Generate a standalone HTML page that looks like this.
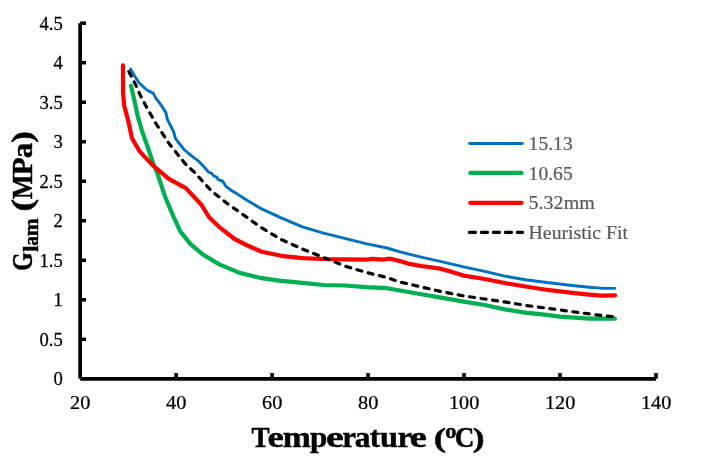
<!DOCTYPE html>
<html>
<head>
<meta charset="utf-8">
<title>Chart</title>
<style>
html,body{margin:0;padding:0;background:#fff;}
body{width:710px;height:472px;overflow:hidden;}
svg{display:block;will-change:transform;}
text{font-family:"Liberation Serif",serif;}
</style>
</head>
<body>
<svg width="710" height="472" viewBox="0 0 710 472">
<rect x="0" y="0" width="710" height="472" fill="#ffffff"/>
<!-- series -->
<g fill="none" stroke-linejoin="round" stroke-linecap="round">
<polyline id="blue" stroke="#0070C0" stroke-width="2.9" points="130.5,68.9 133.5,74.3 139.2,83 146.9,90 153.2,93.1 155.8,98.2 160.8,104.6 165.9,112.6 167.2,119 173.6,131.7 175.5,138.7 184,149.5 191.6,155.9 199.2,161.7 205.6,168.6 208.8,172.3 211.3,172.9 213.9,176.1 216.4,176.9 218.3,179.6 222.8,181.3 225.9,186.3 231,190.2 237.4,194.1 245,199.0 260,208.1 281.2,217.9 302.4,226.8 323.6,233.1 344.7,238.4 365.9,243.7 387.1,248 400,251.9 421.2,257.2 442.4,261.9 463.6,266.8 484.7,271.4 505.9,276.3 527.1,280.0 544.8,282.3 559.7,284.0 574.5,285.8 589.3,287.2 604.2,288.4 614.6,288.4"/>
<polyline id="green" stroke="#00B050" stroke-width="4.2" points="131.0,85.6 135.4,105 137.3,114.7 141.8,130.4 148.1,148.2 153.2,163.5 156.9,172 165.4,197.5 173.6,216.9 180.3,231.4 190.5,244.1 202.4,254.2 219.3,264.4 239.7,272.9 261.7,278.2 281.2,280.8 302.4,282.9 323.6,285 344.7,285.5 365.9,287.2 387.1,288.2 400,290.5 421.2,294.3 442.4,297.9 463.6,301.6 484.7,305.0 505.9,309.6 527.1,312.8 544.8,314.7 559.7,316.6 574.5,317.6 589.3,318.7 614.9,318.7"/>
<polyline id="red" stroke="#FF0000" stroke-width="4.2" points="123.0,65.4 123.1,93.1 124.2,105.8 128.4,121.5 131.9,138.0 139.2,150.8 152.5,165.2 168.8,178.8 185.8,188.1 201,204.2 209.5,217.8 219.3,227.1 234.6,239 248.1,245.8 261.7,251.7 281.2,255.8 302.4,258.2 323.6,259.0 344.7,259.3 365.9,259.7 372.3,258.8 382.9,259.7 390.3,258.7 399.8,261.1 409.4,263.9 421.2,266.0 440.3,268.7 452,271.9 463.6,275.6 484.7,279.0 505.9,283.3 527.1,286.8 544.8,289.5 559.7,291.3 574.5,293.2 589.3,294.7 601.2,295.7 615.1,295.3"/>
<polyline id="black" stroke="#000000" stroke-width="3.2" stroke-dasharray="5.0 6.593" stroke-dashoffset="0" points="128.8,71.6 135.4,84.2 140.5,95.7 146.2,106.5 157.0,125.3 169.7,144.4 185.0,163.5 194.2,172 211.2,190.7 228.1,204.2 241.7,213.6 260,226.8 281.2,239.5 302.4,249 323.6,257.5 344.7,266 365.9,272.3 387.1,277.6 400,282 421.2,286.9 442.4,291.8 463.6,295.9 484.7,299.0 505.9,302.2 527.1,305.6 544.8,307.9 559.7,309.9 574.5,312.0 589.3,313.9 604.2,315.9 612.3,316.6"/>
</g>
<!-- axes -->
<g fill="none" stroke="#000" stroke-linecap="butt">
<line x1="80.15" y1="23.2" x2="80.15" y2="378.8" stroke-width="3.7"/>
<line x1="80.15" y1="378.8" x2="656.0" y2="378.8" stroke-width="3.8"/>
</g>
<g id="yticks" stroke="#000" stroke-width="3.5" fill="none">
<line x1="80.15" y1="339.29" x2="86" y2="339.29"/>
<line x1="80.15" y1="299.78" x2="86" y2="299.78"/>
<line x1="80.15" y1="260.27" x2="86" y2="260.27"/>
<line x1="80.15" y1="220.76" x2="86" y2="220.76"/>
<line x1="80.15" y1="181.24" x2="86" y2="181.24"/>
<line x1="80.15" y1="141.73" x2="86" y2="141.73"/>
<line x1="80.15" y1="102.22" x2="86" y2="102.22"/>
<line x1="80.15" y1="62.71" x2="86" y2="62.71"/>
<line x1="80.15" y1="23.20" x2="86" y2="23.20"/>
</g>
<g id="xticks" stroke="#000" stroke-width="3.6" fill="none">
<line x1="176.12" y1="378.8" x2="176.12" y2="373.1"/>
<line x1="272.10" y1="378.8" x2="272.10" y2="373.1"/>
<line x1="368.08" y1="378.8" x2="368.08" y2="373.1"/>
<line x1="464.05" y1="378.8" x2="464.05" y2="373.1"/>
<line x1="560.03" y1="378.8" x2="560.03" y2="373.1"/>
<line x1="656.00" y1="378.8" x2="656.00" y2="373.1"/>
</g>
<!-- y tick labels -->
<g font-size="19.6" fill="#000" stroke="#000" stroke-width="0.25" text-anchor="end">
<text transform="translate(62.7,385.40) scale(0.95,1)">0</text>
<text transform="translate(62.7,345.89) scale(0.95,1)">0.5</text>
<text transform="translate(62.7,306.38) scale(0.95,1)">1</text>
<text transform="translate(62.7,266.87) scale(0.95,1)">1.5</text>
<text transform="translate(62.7,227.36) scale(0.95,1)">2</text>
<text transform="translate(62.7,187.84) scale(0.95,1)">2.5</text>
<text transform="translate(62.7,148.33) scale(0.95,1)">3</text>
<text transform="translate(62.7,108.82) scale(0.95,1)">3.5</text>
<text transform="translate(62.7,69.31) scale(0.95,1)">4</text>
<text transform="translate(62.7,29.80) scale(0.95,1)">4.5</text>
</g>
<!-- x tick labels -->
<g font-size="19.6" fill="#000" stroke="#000" stroke-width="0.25" text-anchor="middle">
<text transform="translate(80.25,409.2) scale(1.035,1)">20</text>
<text transform="translate(176.22,409.2) scale(1.035,1)">40</text>
<text transform="translate(272.20,409.2) scale(1.035,1)">60</text>
<text transform="translate(368.18,409.2) scale(1.035,1)">80</text>
<text transform="translate(464.15,409.2) scale(1.035,1)">100</text>
<text transform="translate(560.13,409.2) scale(1.035,1)">120</text>
<text transform="translate(656.10,409.2) scale(1.035,1)">140</text>
</g>
<!-- legend -->
<g fill="none" stroke-linecap="round">
<line x1="469.6" y1="143.5" x2="522.3" y2="143.5" stroke="#0070C0" stroke-width="2.9"/>
<line x1="470.3" y1="172.9" x2="521.6" y2="172.9" stroke="#00B050" stroke-width="4.2"/>
<line x1="470.3" y1="202.8" x2="521.6" y2="202.8" stroke="#FF0000" stroke-width="4.2"/>
<line x1="469.3" y1="232.3" x2="522.6" y2="232.3" stroke="#000" stroke-width="3.2" stroke-dasharray="6.2 5.8"/>
</g>
<g font-size="19.6" fill="#595959" stroke="#595959" stroke-width="0.2">
<text x="528.6" y="150.0">15.13</text>
<text x="528.6" y="179.5">10.65</text>
<text x="528.6" y="209.0" textLength="66.2" lengthAdjust="spacingAndGlyphs">5.32mm</text>
<text x="528.6" y="238.6" textLength="99.4" lengthAdjust="spacingAndGlyphs">Heuristic Fit</text>
</g>
<!-- axis titles -->
<g font-weight="bold" fill="#000" stroke="#000" stroke-width="0.45" stroke-linejoin="round">
<text transform="translate(251.59,446.9) scale(0.903,1)" font-size="30.0">T</text>
<text transform="translate(267.62,446.9) scale(1.221,1)" font-size="30.0">e</text>
<text transform="translate(282.86,446.9) scale(1.127,1)" font-size="30.0">m</text>
<text transform="translate(309.93,446.9) scale(1.040,1)" font-size="30.0">p</text>
<text transform="translate(325.90,446.9) scale(1.333,1)" font-size="30.0">e</text>
<text transform="translate(342.23,446.9) scale(1.030,1)" font-size="30.0">r</text>
<text transform="translate(354.86,446.9) scale(1.048,1)" font-size="30.0">a</text>
<text transform="translate(369.63,446.9) scale(1.037,1)" font-size="30.0">t</text>
<text transform="translate(379.91,446.9) scale(1.081,1)" font-size="30.0">u</text>
<text transform="translate(397.38,446.9) scale(1.089,1)" font-size="30.0">r</text>
<text transform="translate(409.75,446.9) scale(1.281,1)" font-size="30.0">e</text>
<text transform="translate(433.72,446.7) scale(1.331,1)" font-size="28.0">(</text>
<text transform="translate(454.84,446.9) scale(0.908,1)" font-size="30.0">C</text>
<text transform="translate(472.74,446.7) scale(1.264,1)" font-size="28.0">)</text>
<text transform="translate(445.20,437.7) scale(1.103,1)" font-size="20.3">o</text>
</g>
<g font-weight="bold" fill="#000" stroke="#000" stroke-width="0.45" stroke-linejoin="round" transform="translate(32.3,270.4) rotate(-90)">
<text transform="translate(-0.38,0) scale(0.788,1)" font-size="30.0">G</text>
<text transform="translate(58.79,-0.1) scale(1.339,1)" font-size="28.4">(</text>
<text transform="translate(71.11,0) scale(0.874,1)" font-size="30.0">M</text>
<text transform="translate(95.06,0) scale(0.973,1)" font-size="30.0">P</text>
<text transform="translate(112.27,0) scale(1.033,1)" font-size="30.0">a</text>
<text transform="translate(127.33,-0.1) scale(1.259,1)" font-size="28.4">)</text>
<text transform="translate(18.54,5.7) scale(1.146,1)" font-size="20">l</text>
<text transform="translate(24.71,5.7) scale(0.978,1)" font-size="20">a</text>
<text transform="translate(34.06,5.7) scale(1.076,1)" font-size="20">m</text>
</g>
</svg>
</body>
</html>
